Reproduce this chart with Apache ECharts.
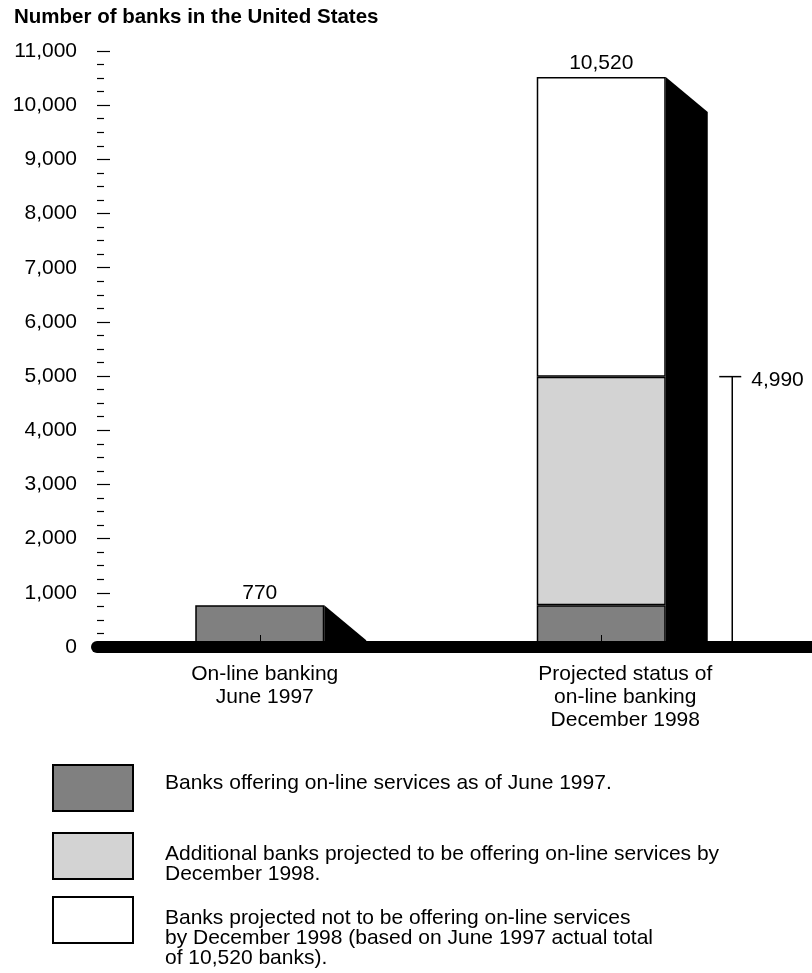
<!DOCTYPE html>
<html>
<head>
<meta charset="utf-8">
<script src="https://cdn.jsdelivr.net/npm/echarts@6/dist/echarts.min.js"></script>
<style>
html,body{margin:0;padding:0;background:#fff;}
#c{width:812px;height:973px;}
</style>
</head>
<body>
<div id="c"></div>
<script>
// ---- data ----
const chartTitle = 'Number of banks in the United States';
const categories = ['On-line banking\nJune 1997', 'Projected status of\non-line banking\nDecember 1998'];
const seriesNames = [
  'Banks offering on-line services as of June 1997.',
  'Additional banks projected to be offering on-line services by\nDecember 1998.',
  'Banks projected not to be offering on-line services\nby December 1998 (based on June 1997 actual total\nof 10,520 banks).'
];
const onlineJune1997 = [770, 770];
const additionalBy1998 = [null, 4220];
const notOnlineBy1998 = [null, 5530];
const yMin = 0, yMax = 11000, yStep = 1000;

// ---- derived ----
const totals = categories.map((_, i) => (onlineJune1997[i] || 0) + (additionalBy1998[i] || 0) + (notOnlineBy1998[i] || 0));
const onlineTotals = categories.map((_, i) => (onlineJune1997[i] || 0) + (additionalBy1998[i] || 0));
const fmt = v => Number(v).toLocaleString('en-US');

const FONT = "'Liberation Sans', Arial, Helvetica, sans-serif";
const BAR_W = 129;
const DEPTH_X = 42, DEPTH_Y = 35;
const BORDER = { borderColor: '#000', borderWidth: 1.5 };

// legend layout (one legend block per entry)
const legendLayout = [
  { top: 764, lineHeight: 21, spaceTop: 0, spaceBottom: 10 },
  { top: 832, lineHeight: 20, spaceTop: 16, spaceBottom: 0 },
  { top: 889.5, lineHeight: 20, spaceTop: 37, spaceBottom: 0 }
];

function makeLegend(idx) {
  const L = legendLayout[idx];
  return {
    data: [seriesNames[idx]], orient: 'vertical', left: 52, top: L.top, padding: 0,
    icon: 'rect', itemWidth: 80, itemHeight: 46, selectedMode: false,
    itemStyle: { borderColor: '#000', borderWidth: 2 },
    formatter: name => {
      let s = name.split('\n').map(l => '{t|' + l + '}').join('\n');
      if (L.spaceTop) s = '{a| }\n' + s;
      if (L.spaceBottom) s = s + '\n{b| }';
      return s;
    },
    textStyle: {
      fontFamily: FONT, fontSize: 21, color: '#000', padding: [0, 0, 0, 27],
      rich: {
        t: { fontFamily: FONT, fontSize: 21, lineHeight: L.lineHeight, color: '#000' },
        a: { fontSize: 1, lineHeight: L.spaceTop || 1 },
        b: { fontSize: 1, lineHeight: L.spaceBottom || 1 }
      }
    }
  };
}

const chart = echarts.init(document.getElementById('c'), null, { renderer: 'canvas' });

const option = {
  backgroundColor: '#fff',
  animation: false,
  textStyle: { fontFamily: FONT, color: '#000' },
  title: {
    text: chartTitle, left: 14, top: 7, padding: 0,
    textStyle: { fontFamily: FONT, fontSize: 20.5, fontWeight: 'bold', color: '#000' }
  },
  grid: [
    { left: 89, right: 40, top: 51, bottom: 326, outerBoundsMode: 'none' },
    { left: 97, right: -40, top: 51, bottom: 326, outerBoundsMode: 'none' }
  ],
  xAxis: [
    {
      type: 'category', gridIndex: 0, data: categories, z: 11,
      axisLine: { show: false },
      axisTick: { show: true, alignWithLabel: true, inside: true, length: 12, lineStyle: { color: '#000', width: 1 } },
      axisLabel: {
        margin: 16, color: '#000', interval: 0,
        formatter: (v, i) => v.split('\n').map(l => '{c' + i + '|' + l + '}').join('\n'),
        rich: {
          c0: { fontFamily: FONT, fontSize: 21, lineHeight: 23, color: '#000', padding: [0, 0, 0, 10] },
          c1: { fontFamily: FONT, fontSize: 21, lineHeight: 23, color: '#000', padding: [0, 0, 0, 48] }
        }
      },
      splitLine: { show: false }
    },
    {
      type: 'value', gridIndex: 1, min: 0, max: 1, z: 10,
      axisLine: { show: true, onZero: false, lineStyle: { color: '#000', width: 12, cap: 'round' } },
      axisTick: { show: false }, axisLabel: { show: false }, splitLine: { show: false }
    }
  ],
  yAxis: [
    {
      type: 'value', gridIndex: 0, min: yMin, max: yMax, interval: yStep, offset: -8, z: 11,
      axisLine: { show: false },
      axisTick: { show: true, inside: true, length: 13, lineStyle: { color: '#000', width: 1.2 } },
      minorTick: { show: true, splitNumber: 4, length: 7, lineStyle: { color: '#000', width: 1.2 } },
      axisLabel: { margin: 20, color: '#000', fontFamily: FONT, fontSize: 21, formatter: v => fmt(v) },
      splitLine: { show: false }, minorSplitLine: { show: false }
    },
    { type: 'value', gridIndex: 1, min: 0, max: 1, show: false }
  ],
  legend: [makeLegend(0), makeLegend(1), makeLegend(2)],
  series: [
    {
      name: seriesNames[0], type: 'bar', stack: 'banks', xAxisIndex: 0, yAxisIndex: 0,
      barWidth: BAR_W, data: onlineJune1997,
      itemStyle: Object.assign({ color: '#808080' }, BORDER),
      label: {
        show: true, position: 'top', distance: 2, color: '#000', fontFamily: FONT, fontSize: 21,
        formatter: p => (additionalBy1998[p.dataIndex] == null ? fmt(totals[p.dataIndex]) : '')
      }
    },
    {
      name: seriesNames[1], type: 'bar', stack: 'banks', xAxisIndex: 0, yAxisIndex: 0,
      barWidth: BAR_W, data: additionalBy1998.map(v => (v == null ? '-' : v)),
      itemStyle: Object.assign({ color: '#d3d3d3' }, BORDER)
    },
    {
      name: seriesNames[2], type: 'bar', stack: 'banks', xAxisIndex: 0, yAxisIndex: 0,
      barWidth: BAR_W, data: notOnlineBy1998.map(v => (v == null ? '-' : v)),
      itemStyle: Object.assign({ color: '#ffffff' }, BORDER),
      label: {
        show: true, position: 'top', distance: 3, color: '#000', fontFamily: FONT, fontSize: 21,
        formatter: p => fmt(totals[p.dataIndex])
      }
    },
    {
      // 3-D side of each bar
      name: 'depth', type: 'custom', xAxisIndex: 0, yAxisIndex: 0, silent: true,
      data: totals.map((t, i) => [i, t]),
      renderItem: (params, api) => {
        const top = api.coord([api.value(0), api.value(1)]);
        const base = api.coord([api.value(0), 0]);
        const xr = top[0] + BAR_W / 2;
        const yEnd = Math.min(top[1] + DEPTH_Y, base[1]);
        return {
          type: 'polygon',
          shape: { points: [[xr, top[1]], [xr + DEPTH_X, yEnd], [xr + DEPTH_X, base[1]], [xr, base[1]]] },
          style: { fill: '#000' }
        };
      }
    },
    {
      // bracket marking the total of banks on-line by December 1998
      name: 'online total', type: 'custom', xAxisIndex: 0, yAxisIndex: 0, silent: true,
      data: categories.map((_, i) => (additionalBy1998[i] != null ? [i, onlineTotals[i]] : null)).filter(Boolean),
      renderItem: (params, api) => {
        const top = api.coord([api.value(0), api.value(1)]);
        const base = api.coord([api.value(0), 0]);
        const x = top[0] + 131;
        return {
          type: 'group',
          children: [
            { type: 'line', shape: { x1: x, y1: base[1], x2: x, y2: top[1] }, style: { stroke: '#000', lineWidth: 1.5 } },
            { type: 'line', shape: { x1: x - 13, y1: top[1], x2: x + 9, y2: top[1] }, style: { stroke: '#000', lineWidth: 1.5 } },
            { type: 'text', x: x + 19, y: top[1] + 4,
              style: { text: fmt(api.value(1)), fill: '#000', font: '21px ' + FONT, textAlign: 'left', textVerticalAlign: 'middle' } }
          ]
        };
      }
    }
  ]
};
chart.setOption(option);
</script>
</body>
</html>
